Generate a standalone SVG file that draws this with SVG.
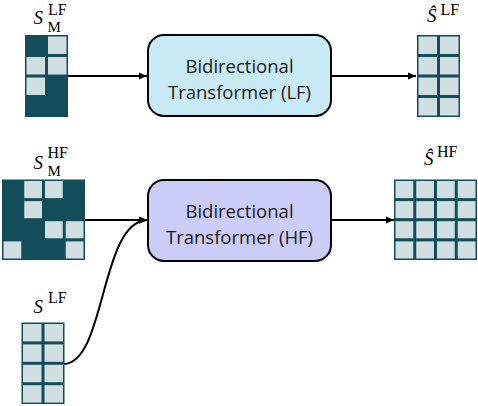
<svg xmlns="http://www.w3.org/2000/svg" width="478" height="406" viewBox="0 0 478 406">
<style>
.dk{fill:#134d5a}
.lt{fill:#d1dfe3}
.box{stroke:#000;stroke-width:2}
.t{font-family:"Open Sans","Noto Sans",sans-serif;font-size:18.5px;fill:#1a1a1a;text-anchor:middle}
.m{font-family:"Liberation Serif","Times New Roman",serif;fill:#000}
.c{fill:none;stroke:#000;stroke-width:2}
</style>
<defs>
<marker id="ah" markerUnits="userSpaceOnUse" markerWidth="10" markerHeight="10" viewBox="0 0 10 10" refX="9" refY="5" orient="auto">
<path d="M1,1.5 L9,5 L1,8.5 z" fill="#000"/>
</marker>
</defs>

<g id="connectors">
<line class="c" x1="68" y1="76" x2="147" y2="76" marker-end="url(#ah)"/>
<line class="c" x1="331" y1="76" x2="416" y2="76" marker-end="url(#ah)"/>
<line class="c" x1="85" y1="220" x2="147" y2="220" marker-end="url(#ah)"/>
<path class="c" d="M64,364 C106,362 100,222 147,220" marker-end="url(#ah)"/>
<line class="c" x1="331" y1="220" x2="394" y2="220" marker-end="url(#ah)"/>
</g>

<g id="sm-lf">
<rect class="dk" x="25" y="35" width="43" height="82"/>
<rect class="lt" x="48" y="36.5" width="18.5" height="17.5"/>
<rect class="lt" x="26.5" y="57" width="18.5" height="17.5"/>
<rect class="lt" x="48" y="57" width="18.5" height="17.5"/>
<rect class="lt" x="26.5" y="77.5" width="18.5" height="17.5"/>
<text class="m" x="33.5" y="24" font-size="19" font-style="italic">S</text>
<text class="m" x="48" y="14.5" font-size="16">LF</text>
<text class="m" x="47.5" y="31.5" font-size="15">M</text>
</g>

<g id="lf-transformer">
<rect class="box" x="148" y="35" width="183" height="81" rx="16" fill="#c8eaf4"/>
<text class="t" x="239.5" y="73">Bidirectional</text>
<text class="t" x="239.5" y="99">Transformer (LF)</text>
</g>

<g id="shat-lf">
<rect class="dk" x="417" y="35" width="43" height="82"/>
<g class="lt">
<rect x="418.5" y="36.5" width="18.5" height="17.5"/><rect x="440" y="36.5" width="18.5" height="17.5"/>
<rect x="418.5" y="57" width="18.5" height="17.5"/><rect x="440" y="57" width="18.5" height="17.5"/>
<rect x="418.5" y="77.5" width="18.5" height="17.5"/><rect x="440" y="77.5" width="18.5" height="17.5"/>
<rect x="418.5" y="98" width="18.5" height="17.5"/><rect x="440" y="98" width="18.5" height="17.5"/>
</g>
<text class="m" x="427" y="22" font-size="19" font-style="italic">Ŝ</text>
<text class="m" x="440.5" y="14.5" font-size="16">LF</text>
</g>

<g id="sm-hf">
<rect class="dk" x="2" y="179.5" width="83" height="80.5"/>
<g class="lt">
<rect x="24.25" y="181" width="17.75" height="17.1"/>
<rect x="45" y="181" width="17.75" height="17.1"/>
<rect x="24.25" y="201.1" width="17.75" height="17.1"/>
<rect x="45" y="221.2" width="17.75" height="17.1"/>
<rect x="65.75" y="221.2" width="17.75" height="17.1"/>
<rect x="3.5" y="241.4" width="17.75" height="17.1"/>
<rect x="65.75" y="241.4" width="17.75" height="17.1"/>
</g>
<text class="m" x="33.5" y="168.5" font-size="19" font-style="italic">S</text>
<text class="m" x="47.5" y="158" font-size="16">HF</text>
<text class="m" x="47.5" y="175.5" font-size="15">M</text>
</g>

<g id="hf-transformer">
<rect class="box" x="148" y="180" width="183" height="81" rx="16" fill="#ccccf8"/>
<text class="t" x="239.5" y="218">Bidirectional</text>
<text class="t" x="239.5" y="244">Transformer (HF)</text>
</g>

<g id="shat-hf">
<rect class="dk" x="394" y="179.5" width="83" height="80.5"/>
<g class="lt">
<rect x="395.5" y="181" width="17.75" height="17.1"/><rect x="416.25" y="181" width="17.75" height="17.1"/><rect x="437" y="181" width="17.75" height="17.1"/><rect x="457.75" y="181" width="17.75" height="17.1"/>
<rect x="395.5" y="201.1" width="17.75" height="17.1"/><rect x="416.25" y="201.1" width="17.75" height="17.1"/><rect x="437" y="201.1" width="17.75" height="17.1"/><rect x="457.75" y="201.1" width="17.75" height="17.1"/>
<rect x="395.5" y="221.2" width="17.75" height="17.1"/><rect x="416.25" y="221.2" width="17.75" height="17.1"/><rect x="437" y="221.2" width="17.75" height="17.1"/><rect x="457.75" y="221.2" width="17.75" height="17.1"/>
<rect x="395.5" y="241.4" width="17.75" height="17.1"/><rect x="416.25" y="241.4" width="17.75" height="17.1"/><rect x="437" y="241.4" width="17.75" height="17.1"/><rect x="457.75" y="241.4" width="17.75" height="17.1"/>
</g>
<text class="m" x="424" y="165" font-size="19" font-style="italic">Ŝ</text>
<text class="m" x="437" y="157" font-size="16">HF</text>
</g>

<g id="s-lf">
<rect class="dk" x="21.5" y="322.5" width="43" height="81.5"/>
<g class="lt">
<rect x="23" y="324" width="18.5" height="17.4"/><rect x="44.5" y="324" width="18.5" height="17.4"/>
<rect x="23" y="344.4" width="18.5" height="17.4"/><rect x="44.5" y="344.4" width="18.5" height="17.4"/>
<rect x="23" y="364.8" width="18.5" height="17.4"/><rect x="44.5" y="364.8" width="18.5" height="17.4"/>
<rect x="23" y="385.2" width="18.5" height="17.4"/><rect x="44.5" y="385.2" width="18.5" height="17.4"/>
</g>
<text class="m" x="33.5" y="312.5" font-size="19" font-style="italic">S</text>
<text class="m" x="48" y="302.5" font-size="16">LF</text>
</g>
</svg>
